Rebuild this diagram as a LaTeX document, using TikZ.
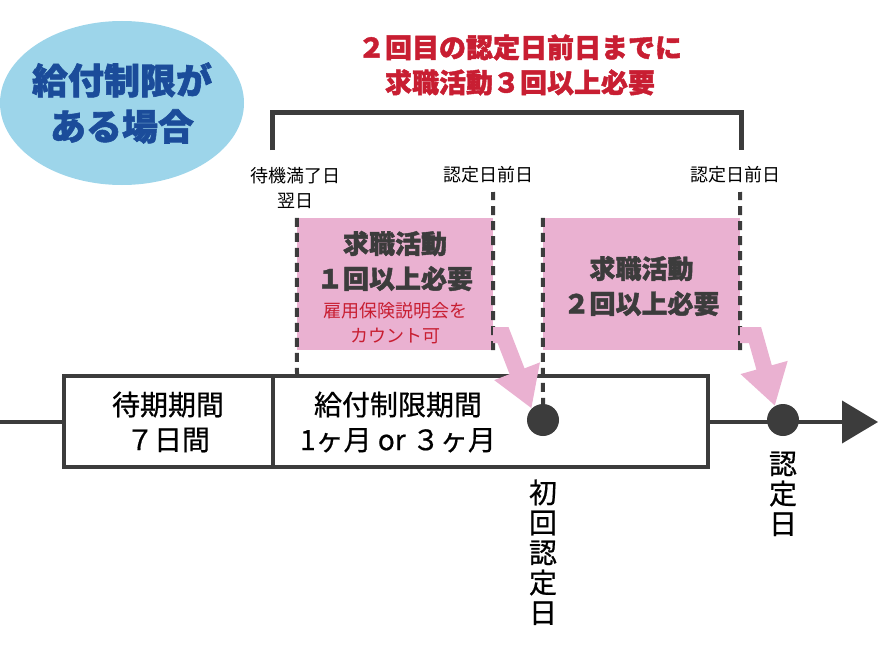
\documentclass[tikz,border=0pt]{standalone}
\usepackage{fontspec}
\setmainfont{Noto Sans CJK JP}
\newfontfamily\heavy{Noto Sans CJK JP}[BoldFeatures={FakeBold=1.6}]
\newfontfamily\medium{Noto Sans CJK JP}[FakeBold=0.6]
\usetikzlibrary{arrows.meta,shapes.geometric}
\definecolor{ink}{HTML}{3C3C3C}
\definecolor{pinkfill}{HTML}{EAB1D1}
\definecolor{skyblue}{HTML}{9DD5EA}
\definecolor{navy}{HTML}{1B4C9A}
\definecolor{alert}{HTML}{C81E32}
\tikzset{
  dashline/.style={ink, line width=4pt, dash pattern=on 9pt off 6pt},
  pinkbox/.style={fill=pinkfill, minimum height=132pt, inner sep=0pt},
  pinkarrow/.style={pinkfill, line width=16pt, line join=miter, -{Triangle[width=46pt,length=40pt]}},
  boxtext/.style={align=center, text=ink, font=\fontsize{26}{35}\selectfont\heavy\bfseries},
  small/.style={align=center, font=\fontsize{18}{25}\selectfont},
  period/.style={align=center, font=\fontsize{28}{35}\selectfont\medium},
  vtext/.style={align=center, anchor=north, font=\fontsize{28}{30}\selectfont\medium},
  dot/.style={circle, fill=ink, minimum size=32pt, inner sep=0pt},
}
\begin{document}
\begin{tikzpicture}[x=1pt,y=-1pt]
\useasboundingbox (0,0) rectangle (880,650);

% badge and goal
\node[ellipse, fill=skyblue, minimum width=244pt, minimum height=164pt, inner sep=0pt] (badge) at (122,103) {};
\node[align=center, text=navy, font=\fontsize{36}{46}\selectfont\heavy\bfseries] at (badge) {給付制限が\\ある場合};
\node[align=center, text=alert, font=\fontsize{27}{35}\selectfont\heavy\bfseries] (goal) at (520,65) {２回目の認定日前日までに\\求職活動３回以上必要};
\draw[ink, line width=5pt] (272,150) |- (741,113) -- (741,150);

% date labels
\node[small] (lbl1) at (295,188) {待機満了日\\翌日};
\node[small] (lbl2) at (488,175) {認定日前日};
\node[small] (lbl3) at (735,175) {認定日前日};

% timeline
\coordinate (start) at (0,422);
\coordinate (end) at (878,422);
\draw[ink, line width=4pt, -{Triangle[width=42pt,length=36pt]}] (start) -- (end);
\draw[ink, line width=4pt, fill=white] (64,376) rectangle (708,467);
\draw[ink, line width=4pt] (273,376) -- (273,467);
\node[period] (wait) at (168,422) {待期期間\\７日間};
\node[period] (limit) at (398,422) {給付制限期間\\1ヶ月 or ３ヶ月};
\node[dot] (d1) at (543,420) {};
\node[dot] (d2) at (783,420) {};
\node[vtext] (first) at (543,476) {初\\回\\認\\定\\日};
\node[vtext] (recog) at (783,448) {認\\定\\日};

% pink boxes
\node[pinkbox, minimum width=196pt] (b1) at (395,284) {};
\node[pinkbox, minimum width=197pt] (b2) at (641.5,284) {};
\node[boxtext] at (395,261) {求職活動\\１回以上必要};
\node[small, text=alert] at (395,323) {雇用保険説明会を\\カウント可};
\node[boxtext] at (641.5,286) {求職活動\\２回以上必要};

% dashed marks
\draw[dashline] (b1.north west) -- (297,376);
\draw[dashline] (b1.south east) -- (493,192);
\draw[dashline] (b2.north west) -- (d1.north);
\draw[dashline] (b2.south east) -- (740,192);

% arrows to the dates
\draw[pinkarrow] (493,335) -- (503,335) -- (d1.135);
\draw[pinkarrow] (740,335) -- (755,335) -- (d2.120);
\end{tikzpicture}
\end{document}
